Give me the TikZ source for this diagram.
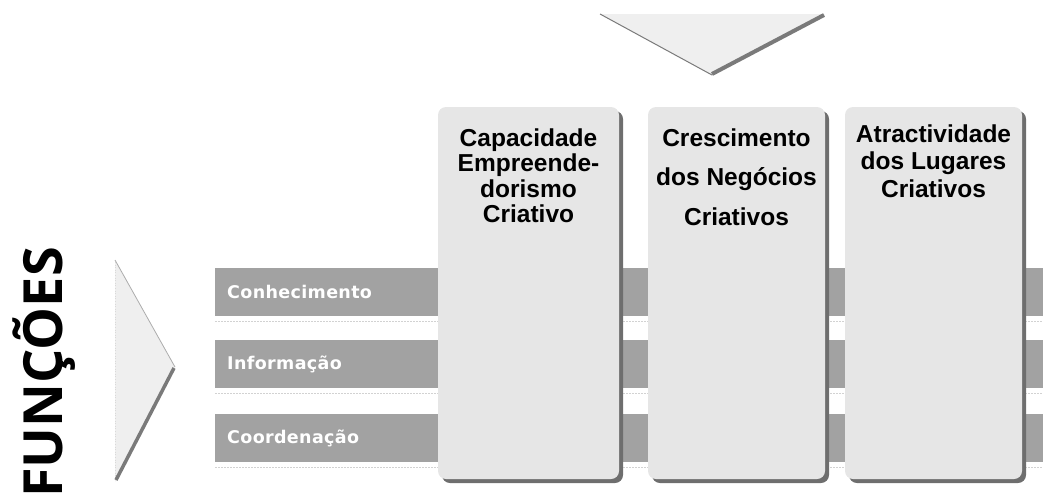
\documentclass[tikz,border=0pt]{standalone}
\usepackage{fontspec}
\newfontfamily\headfont{Liberation Sans}
\newfontfamily\barfont{DejaVu Sans}[LetterSpace=2]
\newfontfamily\bigfont{Open Sans}
\definecolor{colfill}{HTML}{E6E6E6}
\definecolor{colshadow}{HTML}{6E6E6E}
\definecolor{barfill}{HTML}{A2A2A2}
\definecolor{chevfill}{HTML}{EFEFEF}
\definecolor{chevedge}{HTML}{7A7A7A}
\begin{document}
\begin{tikzpicture}[x=1pt,y=-1pt,
  colbox/.style={fill=colfill, rounded corners=8pt},
  colshade/.style={fill=colshadow, rounded corners=8pt},
  barbox/.style={fill=barfill},
  barline/.style={draw=gray!35, line width=1pt, dash pattern=on 2pt off 1pt},
  bartext/.style={anchor=west, text=white, font=\barfont\bfseries\fontsize{17.5}{20}\selectfont, inner sep=0pt},
  headtext/.style={anchor=base, font=\headfont\bfseries\fontsize{24.5}{26}\selectfont, inner sep=0pt},
  bigtext/.style={anchor=base, rotate=90, font=\bigfont\bfseries\fontsize{54}{60}\selectfont, inner sep=0pt},
]
\useasboundingbox (0,0) rectangle (1043,498);

% top chevron
\fill[chevfill] (600,14) -- (825,14) -- (712,75) -- cycle;
\draw[chevedge, line width=1pt] (600,14) -- (712,75);
\draw[chevedge, line width=4pt] (712,74) -- (824,15);

% left chevron
\fill[chevfill] (115,260) -- (175,367) -- (115,482) -- cycle;
\draw[gray!30, line width=0.6pt, dotted] (115,262) -- (115,480);
\draw[gray!65, line width=0.8pt] (115,260) -- (175,367);
\draw[chevedge, line width=3.5pt] (174,368) -- (116,480);

% FUNCOES
\node[bigtext] (func) at (62,372.5) {FUNÇÕES};

% bars
\fill[barbox] (215,268) rectangle (1043,316);
\fill[barbox] (215,340) rectangle (1043,388);
\fill[barbox] (215,414) rectangle (1043,462);
\draw[barline] (215,321) -- (1043,321);
\draw[barline] (215,393) -- (1043,393);
\draw[barline] (215,467) -- (1043,467);
\node[bartext] (b1) at (227,292) {Conhecimento};
\node[bartext] (b2) at (227,364) {Informação};
\node[bartext] (b3) at (227,438) {Coordenação};

% columns
\fill[colshade] (442,111) rectangle (623,483);
\fill[colbox] (438,107) rectangle (619,479);
\fill[colshade] (652,111) rectangle (829,483);
\fill[colbox] (648,107) rectangle (825,479);
\fill[colshade] (849,111) rectangle (1026,483);
\fill[colbox] (845,107) rectangle (1022,479);

% column titles
\node[headtext] (c1a) at (528.5,146) {Capacidade};
\node[headtext] (c1b) at (528.5,171.5) {Empreende-};
\node[headtext] (c1c) at (528.5,197) {dorismo};
\node[headtext] (c1d) at (528.5,222.5) {Criativo};
\node[headtext] (c2a) at (736.5,146) {Crescimento};
\node[headtext] (c2b) at (736.5,185.5) {dos Negócios};
\node[headtext] (c2c) at (736.5,225) {Criativos};
\node[headtext] (c3a) at (933.5,142) {Atractividade};
\node[headtext] (c3b) at (933.5,169.5) {dos Lugares};
\node[headtext] (c3c) at (933.5,197) {Criativos};
\end{tikzpicture}
\end{document}
